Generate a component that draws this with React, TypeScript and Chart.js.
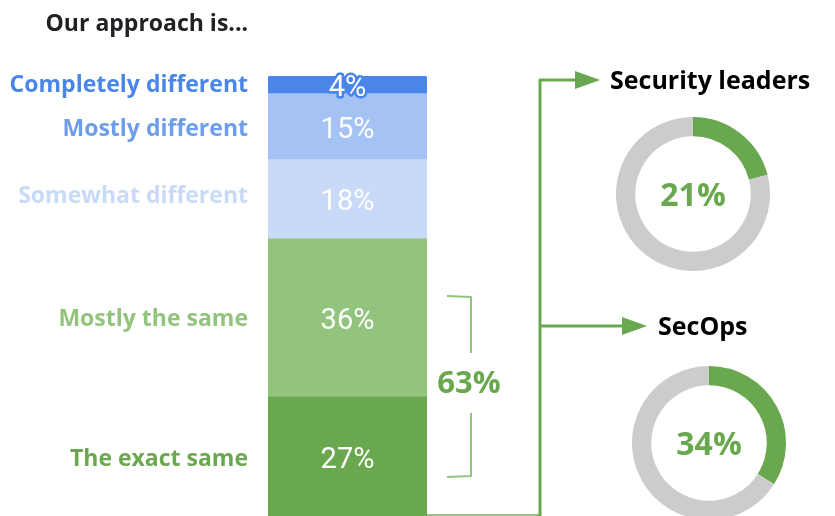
import React, { useEffect, useRef } from "react";
import { Chart, registerables } from "chart.js";

Chart.register(...registerables);

// ---- data ----
const title = "Our approach is...";
const categories = [
  "The exact same",
  "Mostly the same",
  "Somewhat different",
  "Mostly different",
  "Completely different",
];
const values = [27, 36, 18, 15, 4];
const valueLabels = ["27%", "36%", "18%", "15%", "4%"];
const barColors = ["#6aa84f", "#93c47d", "#c9daf8", "#a4c2f4", "#4a86e8"];
const labelColors = ["#6aa84f", "#93c47d", "#c9daf8", "#6d9eeb", "#4a86e8"];
const bracketLabel = "63%";
const groups = ["Security leaders", "SecOps"];
const groupShares = [21, 34];
const groupLabels = ["21%", "34%"];

const GREEN = "#6aa84f";
const LIGHT_GREEN = "#93c47d";
const LABEL_FONT = '"Open Sans", sans-serif';

const overlayPlugin = {
  id: "overlay",
  afterDatasetsDraw(chart: any) {
    const ctx = chart.ctx as CanvasRenderingContext2D;
    ctx.save();

    // title
    ctx.fillStyle = "#202124";
    ctx.font = `700 23px ${LABEL_FONT}`;
    ctx.textAlign = "right";
    ctx.textBaseline = "alphabetic";
    ctx.fillText(title, 248, 31);

    // per-segment labels
    const labelOffsets = [1, 0, -4, 1, -1];
    chart.data.datasets.forEach((ds: any, i: number) => {
      const meta = chart.getDatasetMeta(i);
      const el = meta.data[0];
      if (!el) return;
      const cy = (el.y + el.base) / 2;
      // left category label
      ctx.font = `700 23px ${LABEL_FONT}`;
      ctx.textAlign = "right";
      ctx.fillStyle = labelColors[i];
      ctx.fillText(categories[i], 248, cy + labelOffsets[i] + 8);
      // value label
      ctx.font = `400 29px Roboto, sans-serif`;
      ctx.textAlign = "center";
      const vy = cy + 11;
      if (i === categories.length - 1) {
        ctx.lineWidth = 5;
        ctx.lineJoin = "round";
        ctx.strokeStyle = barColors[i];
        ctx.strokeText(valueLabels[i], el.x, vy);
      }
      ctx.fillStyle = "#ffffff";
      ctx.fillText(valueLabels[i], el.x, vy);
    });

    // bracket
    ctx.strokeStyle = LIGHT_GREEN;
    ctx.lineWidth = 2;
    ctx.beginPath();
    ctx.moveTo(447, 296);
    ctx.lineTo(471, 297);
    ctx.lineTo(471, 353);
    ctx.moveTo(471, 413);
    ctx.lineTo(471, 476);
    ctx.lineTo(447, 477);
    ctx.stroke();
    ctx.fillStyle = GREEN;
    ctx.font = `700 31px ${LABEL_FONT}`;
    ctx.textAlign = "center";
    ctx.fillText(bracketLabel, 469, 393);

    // bottom thin line
    ctx.strokeStyle = LIGHT_GREEN;
    ctx.lineWidth = 2;
    ctx.beginPath();
    ctx.moveTo(427, 515);
    ctx.lineTo(540, 515);
    ctx.stroke();

    // connector
    ctx.strokeStyle = GREEN;
    ctx.lineWidth = 3;
    ctx.beginPath();
    ctx.moveTo(540, 516);
    ctx.lineTo(540, 80);
    ctx.lineTo(580, 80);
    ctx.moveTo(540, 326);
    ctx.lineTo(625, 326);
    ctx.stroke();
    ctx.fillStyle = GREEN;
    const arrow = (x0: number, x1: number, y: number) => {
      ctx.beginPath();
      ctx.moveTo(x0, y - 9);
      ctx.lineTo(x1, y);
      ctx.lineTo(x0, y + 9);
      ctx.closePath();
      ctx.fill();
    };
    arrow(575, 600, 80);
    arrow(622, 647, 326);

    // group titles
    ctx.fillStyle = "#000000";
    ctx.font = `700 25px ${LABEL_FONT}`;
    ctx.textAlign = "left";
    ctx.fillText(groups[0], 610, 89);
    ctx.fillText(groups[1], 658, 335);

    ctx.restore();
  },
};

function StackedBar() {
  const ref = useRef<HTMLCanvasElement>(null);
  useEffect(() => {
    if (!ref.current) return;
    const chart = new Chart(ref.current, {
      type: "bar",
      data: {
        labels: [""],
        datasets: categories.map((c, i) => ({
          label: c,
          data: [values[i]],
          backgroundColor: barColors[i],
          borderWidth: 0,
          barPercentage: 1,
          categoryPercentage: 1,
          borderSkipped: false,
          borderRadius:
            i === categories.length - 1
              ? { topLeft: 3, topRight: 3, bottomLeft: 0, bottomRight: 0 }
              : 0,
        })),
      },
      options: {
        responsive: false,
        animation: false,
        layout: { padding: { left: 268, right: 408, top: 76, bottom: 0 } },
        scales: {
          x: { stacked: true, display: false },
          y: { stacked: true, display: false, min: 0, max: 100 },
        },
        plugins: {
          legend: { display: false },
          tooltip: { enabled: false },
          title: { display: false },
        },
      },
      plugins: [overlayPlugin],
    } as any);
    return () => chart.destroy();
  }, []);
  return (
    <canvas
      ref={ref}
      width={835}
      height={516}
      style={{ position: "absolute", left: 0, top: 0, width: 835, height: 516 }}
    />
  );
}

function Donut({ idx, cx, cy }: { idx: number; cx: number; cy: number }) {
  const ref = useRef<HTMLCanvasElement>(null);
  const size = 154;
  useEffect(() => {
    if (!ref.current) return;
    const centerText = {
      id: "centerText",
      afterDatasetsDraw(chart: any) {
        const ctx = chart.ctx as CanvasRenderingContext2D;
        const a = chart.chartArea;
        ctx.save();
        ctx.fillStyle = GREEN;
        ctx.font = `700 32px ${LABEL_FONT}`;
        ctx.textAlign = "center";
        ctx.textBaseline = "alphabetic";
        ctx.fillText(groupLabels[idx], (a.left + a.right) / 2, (a.top + a.bottom) / 2 + 12);
        ctx.restore();
      },
    };
    const chart = new Chart(ref.current, {
      type: "doughnut",
      data: {
        labels: ["Yes", "No"],
        datasets: [
          {
            data: [groupShares[idx], 100 - groupShares[idx]],
            backgroundColor: [GREEN, "#cccccc"],
            borderWidth: 0,
          },
        ],
      },
      options: {
        responsive: false,
        animation: false,
        cutout: "75%",
        layout: { padding: 0 },
        plugins: { legend: { display: false }, tooltip: { enabled: false } },
      },
      plugins: [centerText],
    } as any);
    return () => chart.destroy();
  }, [idx]);
  return (
    <canvas
      ref={ref}
      width={size}
      height={size}
      style={{
        position: "absolute",
        left: cx - size / 2,
        top: cy - size / 2,
        width: size,
        height: size,
      }}
    />
  );
}

export default function App() {
  return (
    <div
      style={{
        position: "fixed",
        left: 0,
        top: 0,
        width: 835,
        height: 516,
        overflow: "hidden",
        background: "#ffffff",
      }}
    >
      <StackedBar />
      <Donut idx={0} cx={693} cy={194} />
      <Donut idx={1} cx={709} cy={443} />
    </div>
  );
}
